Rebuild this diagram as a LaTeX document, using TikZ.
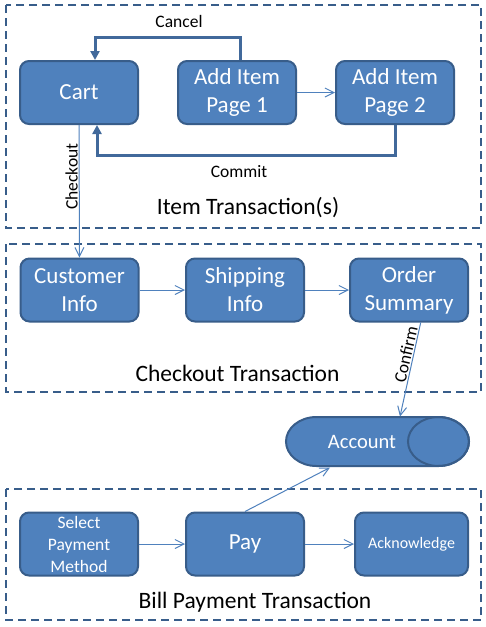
\documentclass[tikz,border=0pt]{standalone}
\usepackage{fontspec}
\setmainfont{Carlito}
\usetikzlibrary{arrows.meta,calc}
\definecolor{boxfill}{HTML}{4F81BD}
\definecolor{boxline}{HTML}{385D8A}
\definecolor{backline}{HTML}{41699B}
\begin{document}
\begin{tikzpicture}[x=1pt,y=-1pt,
  stepbox/.style={draw=boxline, line width=2pt, fill=boxfill, rounded corners=9pt,
    text=white, minimum width=118pt, minimum height=63pt, inner sep=0pt, align=center,
    font=\fontsize{23}{28}\selectfont},
  smallbox/.style={stepbox, font=\fontsize{17.5}{22}\selectfont},
  grp/.style={draw=boxline, line width=2pt, dash pattern=on 8pt off 5pt},
  flowarrow/.style={draw=boxfill, line width=1pt, -{Straight Barb[length=9pt,width=9pt]}},
  backarrow/.style={draw=backline, line width=3pt, -{Triangle[length=9pt,width=9pt]}},
  grplabel/.style={font=\fontsize{23.5}{28}\selectfont, inner sep=0pt},
  edgelabel/.style={font=\fontsize{17.5}{21}\selectfont, inner sep=1pt}
]
\useasboundingbox (0,0) rectangle (486,627);
\fill[white] (0,0) rectangle (486,627);

% group frames
\draw[grp] (6,5) rectangle (481,228);
\draw[grp] (6,244) rectangle (481,392);
\draw[grp] (6,489) rectangle (481,620);

% row 1
\node[stepbox] (cart) at (79,92.5) {Cart};
\node[stepbox] (ai1) at (237,92.5) {Add Item\\Page 1};
\node[stepbox] (ai2) at (395,92.5) {Add Item\\Page 2};

% row 2
\node[stepbox] (ci) at (79.5,290) {Customer\\Info};
\node[stepbox] (si) at (245,290) {Shipping\\Info};
\node[stepbox] (os) at (409,290) {Order\\Summary};

% row 3
\node[smallbox] (spm) at (79,544) {Select\\Payment\\Method};
\node[stepbox] (pay) at (245,544) {Pay};
\node[smallbox, minimum width=113pt, font=\fontsize{16}{20}\selectfont] (ack) at (411.5,544) {Acknowledge};

% account store
\draw[draw=boxline, line width=2pt, fill=boxfill]
  (316.5,417) -- (438.5,417)
  arc[start angle=90, end angle=-90, x radius=30.5pt, y radius=24.5pt]
  -- (316.5,466)
  arc[start angle=270, end angle=90, x radius=30.5pt, y radius=24.5pt] -- cycle;
\draw[draw=boxline, line width=2pt] (438.5,441.5) ellipse[x radius=30.5pt, y radius=24.5pt];
\node[font=\fontsize{20.5}{24}\selectfont, text=white] (acc) at (362,441.5) {Account};
\coordinate (acctop) at (400,416.5);
\coordinate (accbot) at (330,467.5);

% group labels
\node[grplabel] (g1) at (248,208) {Item Transaction(s)};
\node[grplabel] (g2) at (237.5,373) {Checkout Transaction};
\node[grplabel] (g3) at (255,602.5) {Bill Payment Transaction};

% back arrows
\draw[backarrow] ($(ai1.north)+(3,0)$) -- ++(0,-22.5) -| ($(cart.north)+(16,0)$);
\node[edgelabel] (lcancel) at (179,21) {Cancel};
\draw[backarrow] (ai2.south) -- ++(0,30) -| ($(cart.south)+(18,0)$);
\node[edgelabel] (lcommit) at (239,172) {Commit};

% flow arrows
\draw[flowarrow] (ai1.east) -- (ai2.west);
\draw[flowarrow] (cart.south) -- node[edgelabel, pos=0.39, rotate=90, anchor=south] {Checkout} (ci.north);
\draw[flowarrow] (ci.east) -- (si.west);
\draw[flowarrow] (si.east) -- (os.west);
\draw[flowarrow] ($(os.south)+(11.7,0)$) -- node[edgelabel, pos=0.36, rotate=77.3, anchor=south] {Confirm} (acctop);
\draw[flowarrow] (spm.east) -- (pay.west);
\draw[flowarrow] (pay.east) -- (ack.west);
\draw[flowarrow] (pay.north) -- (accbot);
\end{tikzpicture}
\end{document}
